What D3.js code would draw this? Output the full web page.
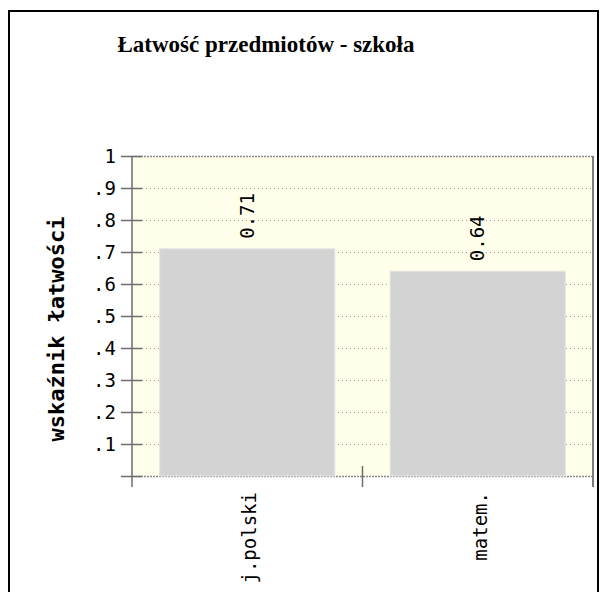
<!DOCTYPE html>
<html>
<head>
<meta charset="utf-8">
<script src="https://cdn.jsdelivr.net/npm/d3@7"></script>
<style>
  html, body { margin: 0; padding: 0; background: #fff; }
  svg { display: block; }
</style>
</head>
<body>
<svg id="chart" width="608" height="592"></svg>
<script>
const title = "Łatwość przedmiotów - szkoła";
const yTitle = "wskaźnik łatwości";
const categories = ["j.polski", "matem."];
const values = [0.71, 0.64];
const valueLabels = ["0.71", "0.64"];
const yTicks = [0, 0.1, 0.2, 0.3, 0.4, 0.5, 0.6, 0.7, 0.8, 0.9, 1];
const yTickLabels = ["", ".1", ".2", ".3", ".4", ".5", ".6", ".7", ".8", ".9", "1"];

const svg = d3.select("#chart");
const mono = "'DejaVu Sans Mono', monospace";

const plot = { left: 132, right: 593, top: 156, bottom: 476 };

const x = d3.scaleBand()
  .domain(categories)
  .range([plot.left, plot.right])
  .paddingInner(0.24)
  .paddingOuter(0.12);
const y = d3.scaleLinear().domain([0, 1]).range([plot.bottom, plot.top]);
const step = x.step();

// outer frame
svg.append("rect")
  .attr("x", 9).attr("y", 11).attr("width", 589).attr("height", 620)
  .attr("fill", "none").attr("stroke", "#000").attr("stroke-width", 2);

// title
svg.append("text")
  .attr("x", 266).attr("y", 52)
  .attr("text-anchor", "middle")
  .attr("font-family", "'Liberation Serif', 'Times New Roman', serif")
  .attr("font-weight", "bold")
  .attr("font-size", 23)
  .text(title);

// plot background
svg.append("rect")
  .attr("x", plot.left).attr("y", plot.top)
  .attr("width", plot.right - plot.left).attr("height", plot.bottom - plot.top)
  .attr("fill", "#ffffeb");

// gridlines
svg.append("g").selectAll("line")
  .data(yTicks.filter(d => d > 0 && d < 1))
  .join("line")
  .attr("x1", plot.left + 10).attr("x2", plot.right)
  .attr("y1", d => Math.round(y(d)) + 0.5).attr("y2", d => Math.round(y(d)) + 0.5)
  .attr("stroke", "#9a9a9a").attr("stroke-width", 1)
  .attr("stroke-dasharray", "1,3");

// top and bottom dashed lines
[1, 0].forEach(v => {
  svg.append("line")
    .attr("x1", plot.left).attr("x2", plot.right)
    .attr("y1", y(v) + 0.5).attr("y2", y(v) + 0.5)
    .attr("stroke", "#8a8a8a").attr("stroke-width", 1.5)
    .attr("stroke-dasharray", "2,1");
});

// bars
svg.append("g").selectAll("rect")
  .data(categories)
  .join("rect")
  .attr("x", d => x(d))
  .attr("y", (d, i) => y(values[i]))
  .attr("width", x.bandwidth())
  .attr("height", (d, i) => y(0) - y(values[i]))
  .attr("fill", "#d3d3d3")
  .attr("stroke", "#e4e4e4").attr("stroke-width", 1);

// value labels
svg.append("g").selectAll("text")
  .data(categories)
  .join("text")
  .attr("transform", (d, i) => `translate(${x(d) + x.bandwidth() / 2},${y(values[i]) - 10}) rotate(-90)`)
  .attr("dy", "0.35em")
  .attr("text-anchor", "start")
  .attr("font-family", mono)
  .attr("font-size", 19)
  .attr("fill", "#000")
  .text((d, i) => valueLabels[i]);

// right border
svg.append("line")
  .attr("x1", plot.right).attr("x2", plot.right)
  .attr("y1", plot.top).attr("y2", plot.bottom + 11)
  .attr("stroke", "#7a7a7a").attr("stroke-width", 2);

// y axis
const yAxis = d3.axisLeft(y)
  .tickValues(yTicks)
  .tickFormat((d, i) => yTickLabels[i])
  .tickSize(0)
  .tickPadding(16);
const yg = svg.append("g").attr("transform", `translate(${plot.left},0)`).call(yAxis);
yg.select(".domain").remove();
yg.selectAll(".tick text")
  .attr("font-family", mono).attr("font-size", 19).attr("fill", "#000");
yg.selectAll(".tick").append("line")
  .attr("x1", -11).attr("x2", 10)
  .attr("stroke", "#6e6e6e").attr("stroke-width", 1.5);
svg.append("line")
  .attr("x1", plot.left).attr("x2", plot.left)
  .attr("y1", plot.top).attr("y2", plot.bottom + 11)
  .attr("stroke", "#6e6e6e").attr("stroke-width", 1.5);

// x boundary ticks
svg.append("g").selectAll("line")
  .data(d3.range(1, categories.length))
  .join("line")
  .attr("x1", i => plot.left + i * step).attr("x2", i => plot.left + i * step)
  .attr("y1", plot.bottom - 10).attr("y2", plot.bottom + 11)
  .attr("stroke", "#6e6e6e").attr("stroke-width", 1.5);

// x labels
svg.append("g").selectAll("text")
  .data(categories)
  .join("text")
  .attr("transform", d => `translate(${x(d) + x.bandwidth() / 2},492) rotate(-90)`)
  .attr("dy", 9)
  .attr("text-anchor", "end")
  .attr("font-family", mono)
  .attr("font-size", 19)
  .attr("fill", "#000")
  .text(d => d);

// y title
svg.append("text")
  .attr("transform", "translate(64,329) rotate(-90)")
  .attr("text-anchor", "middle")
  .attr("font-family", mono)
  .attr("font-weight", "bold")
  .attr("font-size", 22)
  .attr("fill", "#000")
  .text(yTitle);
</script>
</body>
</html>
